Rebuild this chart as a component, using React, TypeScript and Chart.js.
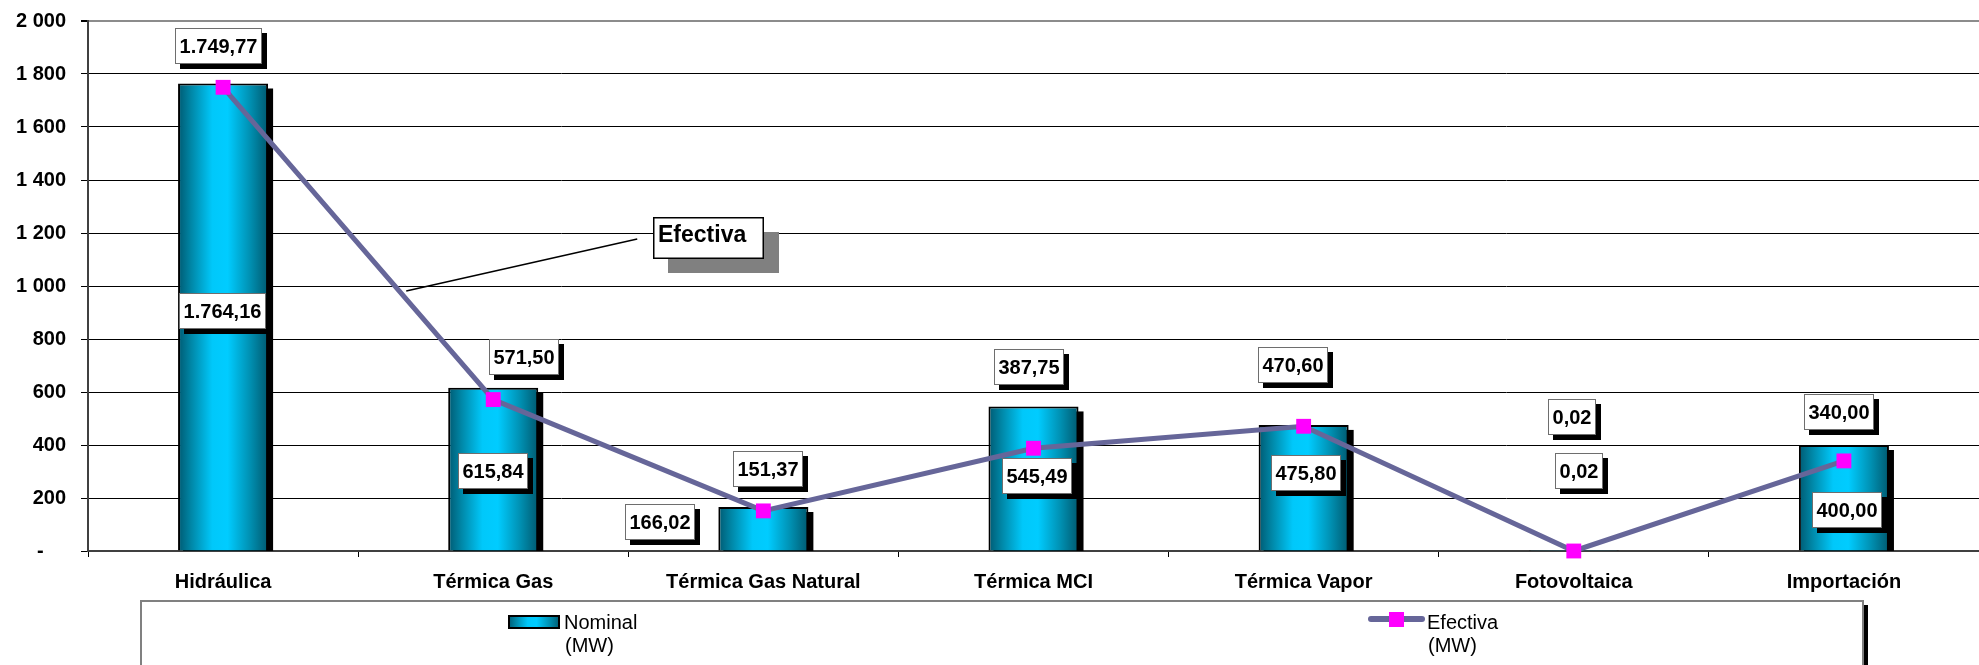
import React, { useEffect, useRef } from 'react';
import { Chart, registerables } from 'chart.js';

Chart.register(...registerables);

const FONT = "'Liberation Sans', Arial, Helvetica, sans-serif";

// ---- data ----
const categories = [
  'Hidráulica',
  'Térmica Gas',
  'Térmica Gas Natural',
  'Térmica MCI',
  'Térmica Vapor',
  'Fotovoltaica',
  'Importación',
];
const nominal = [1764.16, 615.84, 166.02, 545.49, 475.8, 0.02, 400.0];
const efectiva = [1749.77, 571.5, 151.37, 387.75, 470.6, 0.02, 340.0];
const yMin = 0;
const yMax = 2000;
const yStep = 200;
const legendNominal = ['Nominal', '(MW)'];
const legendEfectiva = ['Efectiva', '(MW)'];
const calloutText = 'Efectiva';

// ---- label placement (pixel offsets from the mark, as dragged in the original) ----
const effLabelOffset = [[-5, -41], [31, -43], [5, -42], [-5, -81], [-11, -61], [-2, -134], [-5, -49]];
const nomLabelOffset = [[-1, 228], [0, 83], [-103, 15], [3, 70], [2, 48], [5, -80], [3, 65]];

const fmtEs = (v: number) => {
  const [i, d] = v.toFixed(2).split('.');
  return i.replace(/\B(?=(\d{3})+(?!\d))/g, '.') + ',' + d;
};
const fmtTick = (v: number) =>
  v === 0 ? '-    ' : String(v).replace(/\B(?=(\d{3})+(?!\d))/g, ' ');

const barGradient = (ctx: CanvasRenderingContext2D, x0: number, x1: number) => {
  const g = ctx.createLinearGradient(x0, 0, x1, 0);
  g.addColorStop(0, '#005A72');
  g.addColorStop(0.15, '#0088A8');
  g.addColorStop(0.38, '#00C8FA');
  g.addColorStop(0.55, '#00CCFF');
  g.addColorStop(0.8, '#0090B2');
  g.addColorStop(1, '#005A70');
  return g;
};

const drawBox = (ctx: CanvasRenderingContext2D, text: string, cx: number, cy: number) => {
  ctx.save();
  ctx.font = `bold 20px ${FONT}`;
  const w = Math.round(ctx.measureText(text).width + 9);
  const h = 36;
  const x = Math.round(cx - w / 2);
  const y = Math.round(cy - h / 2);
  ctx.fillStyle = '#000';
  ctx.fillRect(x + 5, y + 5, w, h);
  ctx.fillStyle = '#fff';
  ctx.fillRect(x, y, w, h);
  ctx.strokeStyle = '#6e6e6e';
  ctx.lineWidth = 1;
  ctx.strokeRect(x + 0.5, y + 0.5, w - 1, h - 1);
  ctx.fillStyle = '#000';
  ctx.textAlign = 'center';
  ctx.textBaseline = 'middle';
  ctx.fillText(text, x + w / 2, y + h / 2 + 1);
  ctx.restore();
};

const barShadowPlugin = {
  id: 'barShadow',
  beforeDatasetDraw(chart: any, args: any) {
    if (args.meta.type !== 'bar') return;
    const ctx = chart.ctx as CanvasRenderingContext2D;
    const a = chart.chartArea;
    ctx.save();
    ctx.beginPath();
    ctx.rect(a.left, a.top, a.right - a.left, a.bottom - a.top);
    ctx.clip();
    ctx.fillStyle = '#000';
    args.meta.data.forEach((el: any) => {
      const h = el.base - el.y;
      if (h < 2) return;
      ctx.fillRect(el.x - el.width / 2 + 5, el.y + 5, el.width, h);
    });
    ctx.restore();
  },
};

const labelsPlugin = {
  id: 'labelsAndCallout',
  afterDatasetsDraw(chart: any) {
    const ctx = chart.ctx as CanvasRenderingContext2D;
    const lineMeta = chart.getDatasetMeta(0);
    const barMeta = chart.getDatasetMeta(1);
    // callout with leader pointing at first line segment
    const p0 = lineMeta.data[0];
    const p1 = lineMeta.data[1];
    const t = 0.678;
    const sx = p0.x + (p1.x - p0.x) * t;
    const sy = p0.y + (p1.y - p0.y) * t - 8;
    ctx.save();
    ctx.strokeStyle = '#000';
    ctx.lineWidth = 1.5;
    ctx.beginPath();
    ctx.moveTo(sx, sy);
    ctx.lineTo(sx + 231, sy - 52);
    ctx.stroke();
    const bx = Math.round(sx + 247);
    const by = Math.round(sy - 74);
    const bw = 111;
    const bh = 42;
    ctx.fillStyle = '#808080';
    ctx.fillRect(bx + 15, by + 15, bw, bh - 1);
    ctx.fillStyle = '#fff';
    ctx.fillRect(bx, by, bw, bh);
    ctx.strokeStyle = '#000';
    ctx.lineWidth = 1.5;
    ctx.strokeRect(bx + 0.75, by + 0.75, bw - 1.5, bh - 1.5);
    ctx.fillStyle = '#000';
    ctx.font = `bold 23px ${FONT}`;
    ctx.textAlign = 'left';
    ctx.textBaseline = 'alphabetic';
    ctx.fillText(calloutText, bx + 5, by + 25);
    ctx.restore();

    // data labels
    barMeta.data.forEach((el: any, i: number) => {
      const [dx, dy] = nomLabelOffset[i];
      drawBox(ctx, fmtEs(nominal[i]), el.x + dx, el.y + dy);
    });
    lineMeta.data.forEach((el: any, i: number) => {
      const [dx, dy] = effLabelOffset[i];
      drawBox(ctx, fmtEs(efectiva[i]), el.x + dx, el.y + dy);
    });
  },
  afterDraw(chart: any) {
    const ctx = chart.ctx as CanvasRenderingContext2D;
    ctx.save();
    // legend frame
    const lx = 141;
    const ly = 601;
    const lw = 1722;
    const lh = 120;
    ctx.fillStyle = '#000';
    ctx.fillRect(lx + lw, ly + 4, 5, lh);
    ctx.fillStyle = '#fff';
    ctx.fillRect(lx, ly, lw, lh);
    ctx.strokeStyle = '#808080';
    ctx.lineWidth = 2;
    ctx.strokeRect(lx, ly, lw, lh);

    // nominal entry
    ctx.fillStyle = barGradient(ctx, 508, 560);
    ctx.fillRect(508, 615, 52, 14);
    ctx.strokeStyle = '#000';
    ctx.lineWidth = 2;
    ctx.strokeRect(509, 616, 50, 12);
    ctx.fillStyle = '#000';
    ctx.font = `20px ${FONT}`;
    ctx.textAlign = 'left';
    ctx.textBaseline = 'alphabetic';
    ctx.fillText(legendNominal[0], 564, 629);
    ctx.fillText(legendNominal[1], 565, 652);

    // efectiva entry
    ctx.strokeStyle = '#666699';
    ctx.lineWidth = 6;
    ctx.lineCap = 'round';
    ctx.beginPath();
    ctx.moveTo(1371, 619);
    ctx.lineTo(1422, 619);
    ctx.stroke();
    ctx.fillStyle = '#FF00FF';
    ctx.fillRect(1389, 612, 15, 15);
    ctx.fillStyle = '#000';
    ctx.fillText(legendEfectiva[0], 1427, 629);
    ctx.fillText(legendEfectiva[1], 1428, 652);
    ctx.restore();
  },
};

export default function App() {
  const ref = useRef<HTMLCanvasElement>(null);

  useEffect(() => {
    const canvas = ref.current;
    if (!canvas) return;
    const barPct = 1 / 3;
    const chart = new Chart(canvas, {
      type: 'bar',
      data: {
        labels: categories,
        datasets: [
          {
            type: 'line',
            label: 'Efectiva (MW)',
            data: efectiva,
            order: 0,
            borderColor: '#666699',
            borderWidth: 5,
            pointStyle: 'rect',
            pointRadius: 10.5,
            pointHoverRadius: 10.5,
            pointBackgroundColor: '#FF00FF',
            pointBorderColor: '#FF00FF',
            pointBorderWidth: 0,
            tension: 0,
            clip: false as any,
          } as any,
          {
            type: 'bar',
            label: 'Nominal (MW)',
            data: nominal,
            order: 1,
            backgroundColor: (c: any) => {
              const ch = c.chart;
              const xs = ch.scales && ch.scales.x;
              if (!xs || c.dataIndex == null || !ch.chartArea) return '#00CCFF';
              const cx = xs.getPixelForValue(c.dataIndex);
              const half = (xs.width / categories.length) * barPct / 2;
              return barGradient(ch.ctx, cx - half, cx + half);
            },
            borderColor: '#000',
            borderWidth: 2,
            barPercentage: barPct,
            categoryPercentage: 1,
          } as any,
        ],
      },
      options: {
        animation: false,
        responsive: true,
        maintainAspectRatio: false,
        events: [],
        layout: { autoPadding: false, padding: { top: 21, left: 0, right: 0, bottom: 0 } },
        plugins: {
          legend: { display: false },
          tooltip: { enabled: false },
        },
        scales: {
          x: {
            offset: true,
            grid: {
              display: true,
              drawOnChartArea: false,
              drawTicks: true,
              tickLength: 6,
              color: '#000',
              offset: true,
            },
            border: { display: true, color: '#404040', width: 2 },
            ticks: {
              color: '#000',
              font: { family: FONT, size: 20, weight: 'bold' },
              padding: 13,
              maxRotation: 0,
              autoSkip: false,
            },
            afterFit: (s: any) => {
              s.height = 114;
              s.paddingLeft = 0;
              s.paddingRight = 0;
            },
          },
          y: {
            min: yMin,
            max: yMax,
            ticks: {
              stepSize: yStep,
              color: '#000',
              font: { family: FONT, size: 20, weight: 'bold' },
              padding: 15,
              callback: (v: any) => fmtTick(Number(v)),
            },
            grid: {
              color: (c: any) => (c.tick && c.tick.value === yMax ? '#8c8c8c' : '#000'),
              lineWidth: (c: any) => (c.tick && c.tick.value === yMax ? 2 : 1),
              tickLength: 7,
              tickColor: '#000',
            },
            border: { display: true, color: '#404040', width: 2 },
            afterFit: (s: any) => {
              s.width = 88;
              s.paddingTop = 0;
              s.paddingBottom = 0;
            },
          },
        },
      } as any,
      plugins: [barShadowPlugin, labelsPlugin],
    });
    return () => chart.destroy();
  }, []);

  return (
    <div style={{ position: 'absolute', left: 0, top: 0, width: 1979, height: 665, background: '#fff' }}>
      <canvas ref={ref} />
    </div>
  );
}
